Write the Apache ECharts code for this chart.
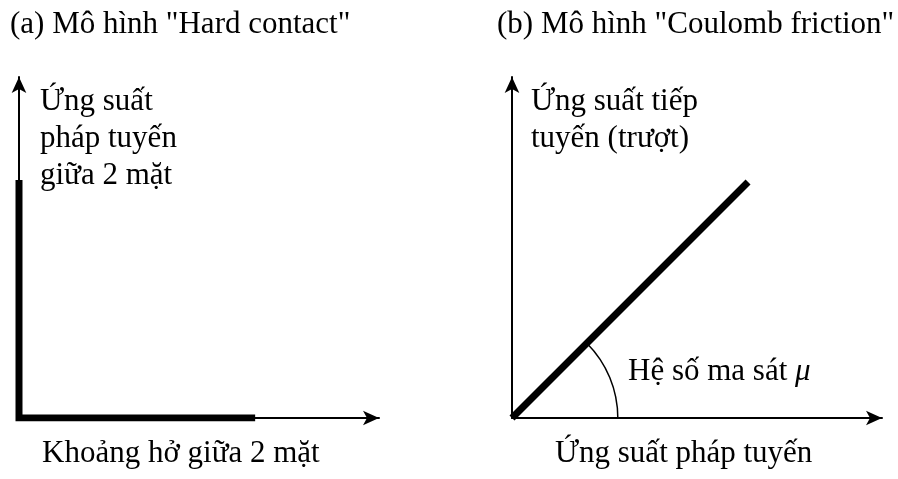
<!DOCTYPE html>
<html>
<head>
<meta charset="utf-8">
<script src="https://cdn.jsdelivr.net/npm/echarts@6/dist/echarts.min.js"></script>
<style>
    html, body { margin: 0; background: #fff; }
    #main { width: 898px; height: 479px; }
</style>
</head>
<body>
<div id="main"></div>
<script>
// 数据 (a) Hard contact: 竖线 + 横线
var hardX = [0, 0, 65.6];
var hardY = [69.8, 0, 0];
// 数据 (b) Coulomb friction: 斜线 + 角度弧
var fricX = [0, 63.8];
var fricY = [0, 69.2];
var arcRadius = 28.6;

var titles = ['(a) Mô hình "Hard contact"', '(b) Mô hình "Coulomb friction"'];
var yNames = ['Ứng suất\npháp tuyến\ngiữa 2 mặt', 'Ứng suất tiếp\ntuyến (trượt)'];
var xNames = ['Khoảng hở giữa 2 mặt', 'Ứng suất pháp tuyến'];
var arcName = 'Hệ số ma sát ';

var font = 'Liberation Serif';
var fs = 31;
var fontStr = fs + 'px "' + font + '"';

function axis(i) {
    return {
        type: 'value', gridIndex: i, min: 0, max: 100,
        axisLine: { lineStyle: { color: '#000', width: 2 }, symbol: ['none', 'arrow'], symbolSize: [11, 16] },
        axisTick: { show: false }, axisLabel: { show: false }, splitLine: { show: false }
    };
}

var myChart = echarts.init(document.getElementById('main'));

var titleStyle = { fontFamily: font, fontSize: fs, fontWeight: 'normal', color: '#000' };

var option = {
    backgroundColor: '#fff',
    animation: false,
    title: [
        { text: titles[0], left: 5, top: 4, textStyle: titleStyle },
        { text: titles[1], left: 492, top: 4, textStyle: titleStyle }
    ],
    grid: [
        { left: 19, top: 77, width: 360, height: 341 },
        { left: 512, top: 77, width: 370, height: 341 }
    ],
    xAxis: [axis(0), axis(1)],
    yAxis: [axis(0), axis(1)],
    graphic: [
        { type: 'text', left: 40, top: 83, style: { text: yNames[0], fill: '#000', font: fontStr, lineHeight: 37 } },
        { type: 'text', left: 531, top: 83, style: { text: yNames[1], fill: '#000', font: fontStr, lineHeight: 37 } },
        { type: 'text', left: 42, top: 438, style: { text: xNames[0], fill: '#000', font: fontStr } },
        { type: 'text', left: 555, top: 438, style: { text: xNames[1], fill: '#000', font: fontStr } },
        { type: 'text', left: 628, top: 356, style: { text: '{a|' + arcName + '}{b|μ}', fill: '#000', font: fontStr,
            rich: { a: { fontFamily: font, fontSize: fs, color: '#000' }, b: { fontFamily: font, fontSize: fs, fontStyle: 'italic', color: '#000' } } } }
    ],
    series: [
        {
            type: 'line', xAxisIndex: 0, yAxisIndex: 0,
            data: hardX.map(function (v, i) { return [v, hardY[i]]; }),
            symbol: 'none', silent: true,
            lineStyle: { color: '#000', width: 7, join: 'miter', cap: 'butt' }
        },
        {
            type: 'line', xAxisIndex: 1, yAxisIndex: 1,
            data: fricX.map(function (v, i) { return [v, fricY[i]]; }),
            symbol: 'none', silent: true,
            lineStyle: { color: '#000', width: 7, cap: 'butt' }
        },
        {
            // 角度弧
            type: 'custom', xAxisIndex: 1, yAxisIndex: 1, silent: true,
            data: [[fricX[0], fricY[0], arcRadius, fricX[1], fricY[1]]],
            renderItem: function (params, api) {
                var c = api.coord([api.value(0), api.value(1)]);
                var e = api.coord([api.value(3), api.value(4)]);
                var r = api.size([api.value(2), 0])[0];
                var ang = Math.atan2(e[1] - c[1], e[0] - c[0]);
                return {
                    type: 'arc',
                    shape: { cx: c[0], cy: c[1], r: r, startAngle: ang, endAngle: 0, clockwise: true },
                    style: { stroke: '#000', fill: null, lineWidth: 1.5 }
                };
            }
        }
    ]
};

myChart.setOption(option);
</script>
</body>
</html>
